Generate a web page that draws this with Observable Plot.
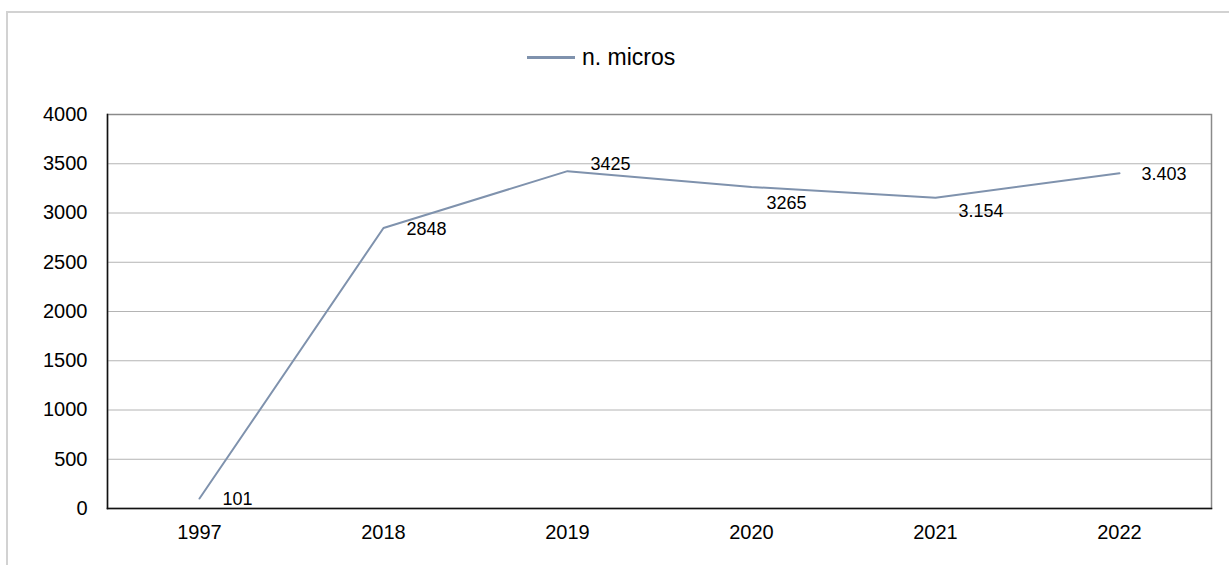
<!DOCTYPE html>
<html>
<head>
<meta charset="utf-8">
<script src="https://cdn.jsdelivr.net/npm/d3@7"></script>
<script src="https://cdn.jsdelivr.net/npm/@observablehq/plot@0.6"></script>
<style>
  html, body { margin: 0; padding: 0; background: #fff; overflow: hidden; width: 1229px; height: 565px; }
  body { position: relative; font-family: "Liberation Sans", Arial, sans-serif; }
  #outer { position: absolute; left: 6px; top: 11px; width: 1400px; height: 800px;
           border-left: 2px solid #d2d2d2; border-top: 2px solid #d2d2d2; box-sizing: border-box; pointer-events: none; }
  #legend { position: relative; height: 80px; }
  #legend .swatch { position: absolute; left: 527px; top: 56px; width: 48px; height: 2.5px; }
  #legend .label { position: absolute; left: 582px; top: 46px; font-size: 23px; line-height: 23px; color: #000; white-space: nowrap; }
  #chart svg { display: block; }
</style>
</head>
<body>
<div id="outer"></div>
<div id="legend"></div>
<div id="chart"></div>
<script>
// ---- data ----
const years = ["1997", "2018", "2019", "2020", "2021", "2022"];
const values = [101, 2848, 3425, 3265, 3154, 3403];
const valueLabels = ["101", "2848", "3425", "3265", "3.154", "3.403"];
const yTicks = [0, 500, 1000, 1500, 2000, 2500, 3000, 3500, 4000];
const seriesName = "n. micros";

// ---- styling / layout (not data) ----
const lineColor = "#7f92ad";
const labelNudge = [[23, 1], [23, 1], [23, -7], [15, 16], [23, 13], [22, 1]];

const rows = years.map((y, i) => ({year: y, value: values[i], label: valueLabels[i], i}));

// legend
const legend = document.getElementById("legend");
legend.innerHTML = `<div class="swatch" style="background:${lineColor}"></div><div class="label">${seriesName}</div>`;

const labelMarks = rows.map(r =>
  Plot.text([r], {x: "year", y: "value", text: "label", textAnchor: "start",
    dx: labelNudge[r.i][0], dy: labelNudge[r.i][1], fontSize: 18, fill: "#000"})
);

const chart = Plot.plot({
  width: 1229,
  height: 485,
  marginTop: 34,
  marginBottom: 57,
  marginLeft: 107,
  marginRight: 18,
  style: {fontFamily: "'Liberation Sans', Arial, sans-serif", color: "#000", background: "transparent", overflow: "visible"},
  x: {type: "point", domain: years, padding: 0.5, label: null},
  y: {domain: [0, 4000], label: null},
  marks: [
    Plot.gridY(yTicks, {stroke: "#b4b4b4", strokeOpacity: 1, strokeWidth: 1}),
    Plot.frame({stroke: "#8a8a8a", strokeWidth: 1.5}),
    Plot.frame({anchor: "left", stroke: "#111", strokeWidth: 1.5}),
    Plot.frame({anchor: "bottom", stroke: "#111", strokeWidth: 1.5}),
    Plot.axisY({ticks: yTicks, tickFormat: d => String(d), tickSize: 0, tickPadding: 20, fontSize: 20, label: null}),
    Plot.axisX({tickSize: 0, tickPadding: 16, fontSize: 20, label: null}),
    Plot.line(rows, {x: "year", y: "value", stroke: lineColor, strokeWidth: 2}),
    ...labelMarks
  ]
});
document.getElementById("chart").appendChild(chart);
</script>
</body>
</html>
